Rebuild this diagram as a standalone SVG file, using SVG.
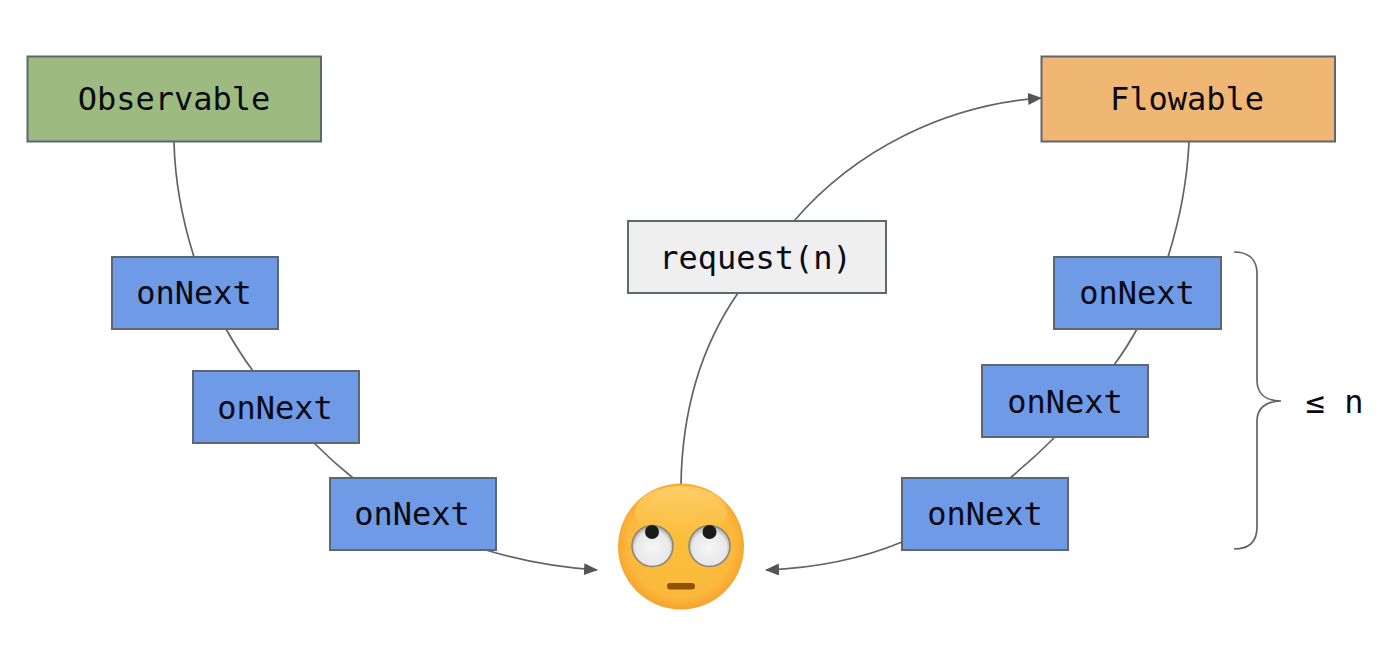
<svg xmlns="http://www.w3.org/2000/svg" width="1386" height="658" viewBox="0 0 1386 658">
<style>
.box{stroke:#5f6670;stroke-width:2}
.obs{fill:#9dbb80}
.flow{fill:#f0b673}
.next{fill:#6f9ae6}
.req{fill:#efefef}
text{font-family:"DejaVu Sans Mono","Liberation Mono",monospace;font-size:32px;fill:#0a0a14;text-anchor:middle}
.conn{fill:none;stroke:#636363;stroke-width:1.7}
</style>
<defs>
<marker id="arrow" markerUnits="userSpaceOnUse" markerWidth="14" markerHeight="12" refX="13" refY="6" orient="auto"><path d="M0 0L14 6L0 12Z" fill="#555"/></marker>
<radialGradient id="face" cx="50%" cy="48%" r="54%"><stop offset="0" stop-color="#fbbf3a"/><stop offset=".78" stop-color="#fab93c"/><stop offset=".94" stop-color="#f7a62f"/><stop offset="1" stop-color="#f19a27"/></radialGradient>
<linearGradient id="shine" x1="0" y1="0" x2="0" y2="1"><stop offset="0" stop-color="#ffe08a" stop-opacity=".55"/><stop offset="1" stop-color="#ffe08a" stop-opacity="0"/></linearGradient>
<radialGradient id="eye" cx="50%" cy="55%" r="52%"><stop offset="0" stop-color="#f6f6f6"/><stop offset=".8" stop-color="#e8e8e8"/><stop offset="1" stop-color="#b0b0b0"/></radialGradient>
</defs>
<rect width="1386" height="658" fill="#fff"/>
<g id="connectors">
<path class="conn" d="M174 142C175 185 183 222 194 257"/>
<path class="conn" d="M226 329Q239 352 253 371"/>
<path class="conn" d="M314 443Q333 462 353 478"/>
<path class="conn" d="M486 550Q538 566 597 570" marker-end="url(#arrow)"/>
<path class="conn" d="M1189 142C1187 185 1179 222 1168 257"/>
<path class="conn" d="M1137 329Q1126 349 1114 365"/>
<path class="conn" d="M1054 438Q1033 459 1010 478"/>
<path class="conn" d="M902 542Q842 567 766 570" marker-end="url(#arrow)"/>
<path class="conn" d="M681 485C682 410 702 345 738 293"/>
<path class="conn" d="M794 221C855 150 945 105 1041 98" marker-end="url(#arrow)"/>
<path class="conn" d="M1234 252C1250 252 1257 261 1257 274V380C1257 393 1265 401 1281 401C1265 401 1257 409 1257 421V527C1257 541 1250 549 1234 549"/>
</g>
<g id="observable"><rect class="box obs" x="27.500" y="56.500" width="293.500" height="85"/><text x="174" y="110">Observable</text></g>
<g id="flowable"><rect class="box flow" x="1041.500" y="56.500" width="293.500" height="85"/><text x="1187" y="110">Flowable</text></g>
<g id="request"><rect class="box req" x="628" y="221" width="258" height="72"/><text x="755.500" y="269">request(n)</text></g>
<g id="left-next-1"><rect class="box next" x="112" y="257" width="166" height="72"/><text x="194" y="304">onNext</text></g>
<g id="left-next-2"><rect class="box next" x="193" y="371" width="166" height="72"/><text x="275" y="419">onNext</text></g>
<g id="left-next-3"><rect class="box next" x="330" y="478" width="166" height="72"/><text x="412" y="525">onNext</text></g>
<g id="right-next-1"><rect class="box next" x="1054" y="257" width="167" height="72"/><text x="1137" y="304">onNext</text></g>
<g id="right-next-2"><rect class="box next" x="982" y="365" width="166" height="72"/><text x="1065" y="413">onNext</text></g>
<g id="right-next-3"><rect class="box next" x="902" y="478" width="166" height="72"/><text x="985" y="525">onNext</text></g>
<g id="limit"><text x="1334.500" y="413">≤ n</text></g>
<g id="emoji">
<circle cx="681" cy="546.500" r="63" fill="url(#face)"/>
<ellipse cx="681" cy="512" rx="46" ry="26" fill="url(#shine)"/>
<circle cx="652.500" cy="546" r="20.500" fill="url(#eye)" stroke="#8b8578" stroke-width="1.500"/>
<circle cx="709.500" cy="546" r="20.500" fill="url(#eye)" stroke="#8b8578" stroke-width="1.500"/>
<circle cx="652" cy="532" r="7" fill="#1a1a1a"/>
<circle cx="709.500" cy="532" r="7" fill="#1a1a1a"/>
<rect x="667" y="583" width="28" height="6.500" rx="3.200" fill="#8f5209"/>
</g>
</svg>
